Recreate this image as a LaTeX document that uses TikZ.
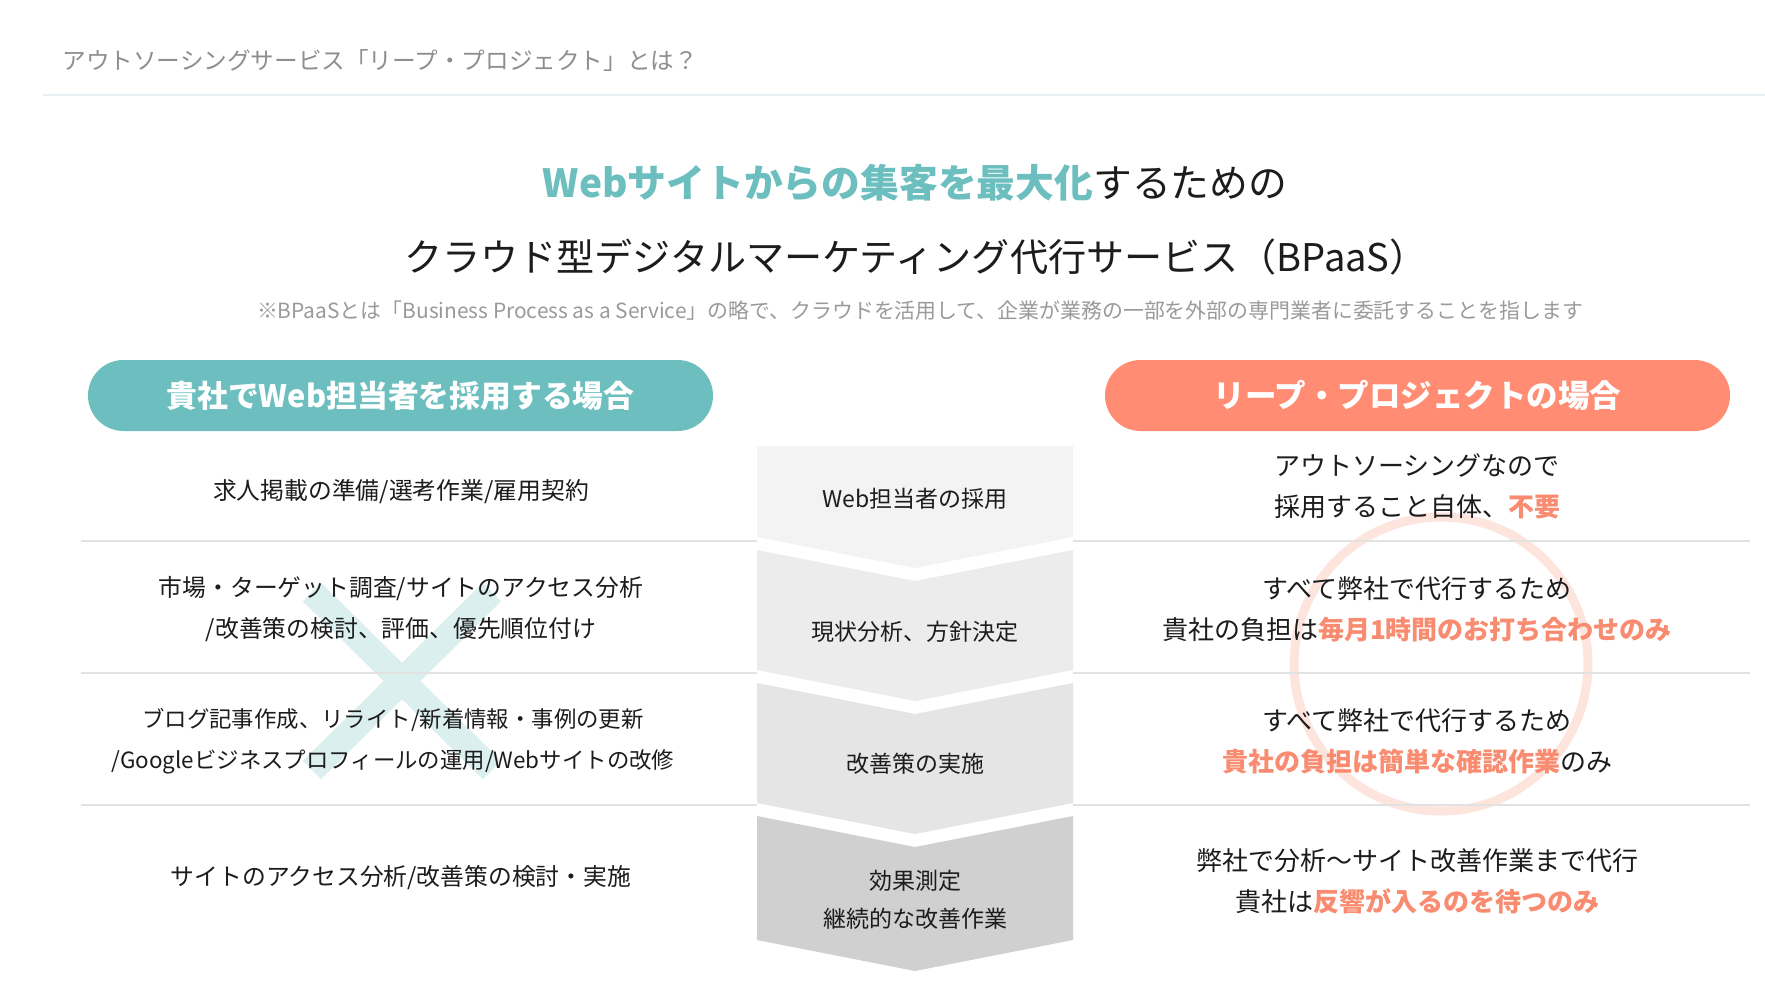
\documentclass[tikz,border=0pt]{standalone}
\usepackage{fontspec}
\setmainfont{Noto Sans CJK JP}
\definecolor{tealc}{HTML}{6DBFBF}
\definecolor{salm}{HTML}{FF8C73}
\definecolor{salmtxt}{HTML}{F98B70}
\definecolor{xcol}{HTML}{DCEFEF}
\definecolor{circcol}{HTML}{FDE5DE}
\definecolor{rowline}{HTML}{E2E2E2}
\definecolor{hdrline}{HTML}{E6EFF1}
\definecolor{txt}{HTML}{1C1C1C}
\definecolor{grey1}{HTML}{8E8E8E}
\definecolor{grey2}{HTML}{9A9A9A}
\definecolor{cvA}{HTML}{F3F3F3}
\definecolor{cvB}{HTML}{ECECEC}
\definecolor{cvC}{HTML}{E5E5E5}
\definecolor{cvD}{HTML}{D0D0D0}
\tikzset{
  lefttxt/.style={text=txt, align=center, font=\fontsize{23.8}{41}\selectfont},
  lefttxtb/.style={text=txt, align=center, font=\fontsize{22.4}{41}\selectfont},
  righttxt/.style={text=txt, align=center, font=\fontsize{26}{41}\selectfont},
  cvtxt/.style={text=txt, align=center, font=\fontsize{23}{38}\selectfont},
  pill/.style={minimum width=625pt, minimum height=71pt, rounded corners=35.5pt, text=white, font=\fontsize{31.5}{36}\selectfont\bfseries},
  pillL/.style={pill, font=\fontsize{30.8}{36}\selectfont\bfseries},
  rowsep/.style={draw=rowline, line width=2.5pt}
}
\newcommand{\hi}[1]{{\color{salmtxt}\bfseries #1}}
\begin{document}
\begin{tikzpicture}[x=1pt,y=-1pt]
\useasboundingbox (0,0) rectangle (1765,990);
\fill[white] (0,0) rectangle (1765,990);

% header
\node[anchor=west, text=grey1, font=\fontsize{23.6}{28}\selectfont] (hdr) at (59,61) {アウトソーシングサービス「リープ・プロジェクト」とは？};
\draw[hdrline, line width=2pt] (43,95) -- (1765,95);

% titles
\node[text=txt, font=\fontsize{38.8}{46}\selectfont] (t1) at (915,183) {{\color{tealc}\bfseries Webサイトからの集客を最大化}するための};
\node[text=txt, font=\fontsize{38.1}{46}\selectfont] (t2) at (916,257) {クラウド型デジタルマーケティング代行サービス（BPaaS）};
\node[text=grey2, font=\fontsize{20.9}{25}\selectfont] (note) at (920,311) {※BPaaSとは「Business Process as a Service」の略で、クラウドを活用して、企業が業務の一部を外部の専門業者に委託することを指します};

% pills
\node[pillL, fill=tealc] (pl) at (400.5,395.5) {貴社でWeb担当者を採用する場合};
\node[pill, fill=salm] (pr) at (1417.5,395.5) {リープ・プロジェクトの場合};

% decorations
\draw[xcol, line width=26pt] (312,592) -- (492,770);
\draw[xcol, line width=26pt] (492,592) -- (312,770);
\draw[circcol, line width=9pt] (1441,664) circle[radius=147pt];

% row separators
\draw[rowsep] (81,541) -- (757,541);
\draw[rowsep] (81,673) -- (757,673);
\draw[rowsep] (81,805) -- (757,805);
\draw[rowsep] (1073,541) -- (1750,541);
\draw[rowsep] (1073,673) -- (1750,673);
\draw[rowsep] (1073,805) -- (1750,805);

% chevrons
\fill[cvA] (757,446) -- (1073,446) -- (1073,537) -- (915,568) -- (757,537) -- cycle;
\fill[cvB] (757,550) -- (915,581) -- (1073,550) -- (1073,670) -- (915,701) -- (757,670) -- cycle;
\fill[cvC] (757,683) -- (915,714) -- (1073,683) -- (1073,803) -- (915,834) -- (757,803) -- cycle;
\fill[cvD] (757,816) -- (915,847) -- (1073,816) -- (1073,940) -- (915,971) -- (757,940) -- cycle;

\node[cvtxt] (c1) at (915,499) {Web担当者の採用};
\node[cvtxt] (c2) at (915,632) {現状分析、方針決定};
\node[cvtxt] (c3) at (915,764) {改善策の実施};
\node[cvtxt] (c4) at (915,900) {効果測定\\継続的な改善作業};

% left column
\node[lefttxt] (l1) at (401,492) {求人掲載の準備/選考作業/雇用契約};
\node[lefttxt] (l2) at (401,609.5) {市場・ターゲット調査/サイトのアクセス分析\\/改善策の検討、評価、優先順位付け};
\node[lefttxtb] (l3) at (393,741) {ブログ記事作成、リライト/新着情報・事例の更新\\/Googleビジネスプロフィールの運用/Webサイトの改修};
\node[lefttxt] (l4) at (401,878) {サイトのアクセス分析/改善策の検討・実施};

% right column
\node[righttxt] (r1) at (1417,486) {アウトソーシングなので\\採用すること自体、\hi{不要}};
\node[righttxt] (r2) at (1417,609.5) {すべて弊社で代行するため\\貴社の負担は\hi{毎月1時間のお打ち合わせのみ}};
\node[righttxt] (r3) at (1417,741) {すべて弊社で代行するため\\\hi{貴社の負担は簡単な確認作業}のみ};
\node[righttxt] (r4) at (1417,881.5) {弊社で分析〜サイト改善作業まで代行\\貴社は\hi{反響が入るのを待つのみ}};
\end{tikzpicture}
\end{document}
